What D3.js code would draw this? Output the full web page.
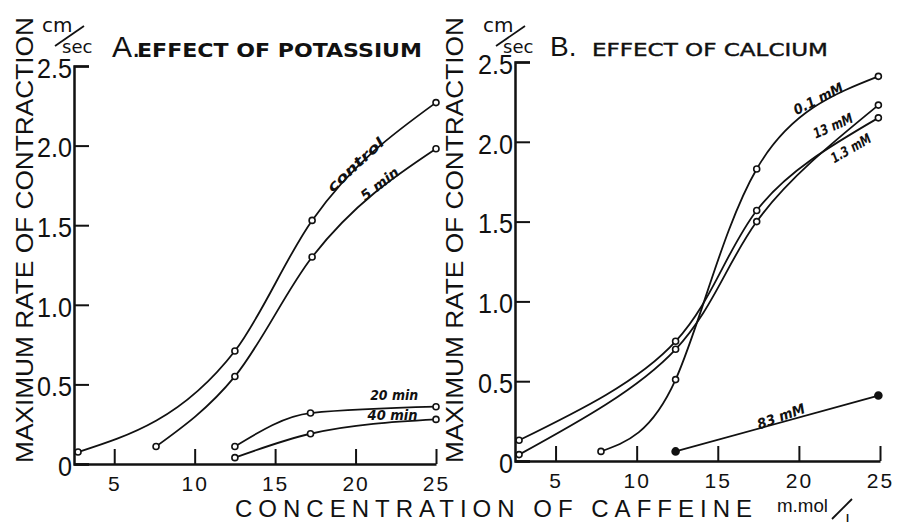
<html>
<head>
    <script src="https://d3js.org/d3.v7.min.js"></script>
    <style>
        body { margin: 0; background: #fff; }
    </style>
</head>
<body>
    <svg id="s" width="900" height="524"></svg>
    <script>
        const X_TICKS = [5, 10, 15, 20, 25]
        const Y_TICKS = [0, 0.5, 1, 1.5, 2, 2.5]

        // A. effect of potassium : [caffeine m.mol/l, max rate cm/sec]
        const kControl = [[2.75, 0.075], [12.5, 0.71], [17.3, 1.53], [25, 2.27]]
        const k5min = [[7.6, 0.11], [12.5, 0.55], [17.3, 1.30], [25, 1.98]]
        const k20min = [[12.5, 0.11], [17.2, 0.32], [25, 0.36]]
        const k40min = [[12.5, 0.04], [17.2, 0.19], [25, 0.28]]

        // B. effect of calcium
        const ca01 = [[7.8, 0.06], [12.4, 0.51], [17.4, 1.83], [24.9, 2.41]]
        const ca13 = [[2.75, 0.04], [12.4, 0.70], [17.4, 1.50], [24.9, 2.23]]
        const ca1p3 = [[2.75, 0.13], [12.4, 0.75], [17.4, 1.57], [24.9, 2.15]]
        const ca83 = [[12.4, 0.06], [24.9, 0.41]]

        const INK = "#111"
        const NUM_FONT = "'Liberation Sans', Arial, sans-serif"
        const LBL_FONT = "'DejaVu Sans', sans-serif"

        const svg = d3.select("svg")

        // label: data position, angle, length of the text
        const panels = [
            {
                xr: [74, 436], yr: [464, 66], titleOff: 50, curve: d3.curveMonotoneX,
                series: [
                    { data: kControl, label: "control", at: [20, 1.88], rot: -43, len: 72 },
                    { data: k5min, label: "5 min", at: [21.5, 1.76], rot: -38, len: 44 },
                    { data: k20min, label: "20 min", at: [22.4, 0.43], rot: 0, len: 48 },
                    { data: k40min, label: "40 min", at: [22.3, 0.31], rot: 0, len: 50 }
                ]
            },
            {
                xr: [515, 880], yr: [461, 62], titleOff: 61, curve: d3.curveNatural,
                series: [
                    { data: ca01, label: "0.1 mM", at: [21.2, 2.27], rot: -27, len: 54 },
                    { data: ca13, label: "13 mM", at: [22.1, 2.10], rot: -24, len: 42 },
                    { data: ca1p3, label: "1.3 mM", at: [23.2, 1.96], rot: -30, len: 44 },
                    { data: ca83, label: "83 mM", at: [18.9, 0.28], rot: -20, len: 50, filled: true }
                ]
            }
        ]

        panels.forEach(p => {
            const x = d3.scaleLinear().domain([2.5, 25]).range(p.xr)
            const y = d3.scaleLinear().domain([0, 2.5]).range(p.yr)
            const g = svg.append("g")

            // y axis, ticks pointing inwards
            const yAxis = g.append("g")
                .attr("transform", `translate(${p.xr[0]}, 0)`)
                .call(d3.axisLeft(y).tickValues(Y_TICKS).tickSize(-15).tickPadding(2)
                    .tickFormat(d => d === 0 ? "0" : d.toFixed(1)))
            yAxis.select(".domain").attr("stroke", INK).attr("stroke-width", 2.5)
            yAxis.selectAll(".tick line").attr("stroke", INK).attr("stroke-width", 2)
            yAxis.selectAll("text").attr("font-family", NUM_FONT).attr("font-size", 28)
                .attr("fill", INK)
                .attr("dy", "0.4em")
                .attr("textLength", d => d === 0 ? 14 : 35)
                .attr("lengthAdjust", "spacingAndGlyphs")

            // x axis
            const xAxis = g.append("g")
                .attr("transform", `translate(0, ${p.yr[0]})`)
                .call(d3.axisBottom(x).tickValues(X_TICKS).tickSize(-15).tickSizeOuter(0).tickPadding(12))
            xAxis.select(".domain").attr("stroke", INK).attr("stroke-width", 2.5)
            xAxis.selectAll(".tick line").attr("stroke", INK).attr("stroke-width", 2)
            xAxis.selectAll("text").attr("font-family", NUM_FONT).attr("font-size", 21)
                .attr("fill", INK).attr("letter-spacing", 2)

            const line = d3.line().x(d => x(d[0])).y(d => y(d[1])).curve(p.curve)

            p.series.forEach(s => {
                g.append("path")
                    .datum(s.data)
                    .attr("d", line)
                    .attr("fill", "none")
                    .attr("stroke", INK)
                    .attr("stroke-width", 1.8)

                g.selectAll(null)
                    .data(s.data)
                    .enter().append("circle")
                    .attr("cx", d => x(d[0]))
                    .attr("cy", d => y(d[1]))
                    .attr("r", s.filled ? 3.5 : 3)
                    .attr("fill", s.filled ? INK : "#fff")
                    .attr("stroke", INK)
                    .attr("stroke-width", 1.6)

                g.append("text")
                    .attr("transform", `translate(${x(s.at[0])}, ${y(s.at[1])}) rotate(${s.rot})`)
                    .attr("text-anchor", "middle")
                    .attr("dy", "0.35em")
                    .attr("font-family", LBL_FONT)
                    .attr("font-size", 14)
                    .attr("font-weight", "bold")
                    .attr("font-style", "italic")
                    .attr("textLength", s.len)
                    .attr("lengthAdjust", "spacingAndGlyphs")
                    .attr("fill", INK)
                    .text(s.label)
            })

            // y axis title
            g.append("text")
                .attr("transform", `translate(${p.xr[0] - p.titleOff}, 240) rotate(-90)`)
                .attr("text-anchor", "middle")
                .attr("dy", "0.36em")
                .attr("font-family", NUM_FONT)
                .attr("font-size", 24)
                .attr("textLength", 446)
                .attr("lengthAdjust", "spacingAndGlyphs")
                .attr("fill", INK)
                .text("MAXIMUM RATE OF CONTRACTION")

            // cm/sec unit
            const ux = p.xr[0]
            g.append("text").attr("x", ux - 32).attr("y", 32)
                .attr("font-family", LBL_FONT).attr("font-size", 20).attr("fill", INK).text("cm")
            g.append("line").attr("x1", ux - 19).attr("y1", 46).attr("x2", ux + 10).attr("y2", 26)
                .attr("stroke", INK).attr("stroke-width", 1.8)
            g.append("text").attr("x", ux - 12).attr("y", 53)
                .attr("font-family", LBL_FONT).attr("font-size", 18).attr("fill", INK).text("sec")
        })

        // titles
        svg.append("text").attr("x", 112).attr("y", 57)
            .attr("font-family", NUM_FONT).attr("font-size", 30).attr("fill", INK).text("A.")
        svg.append("text").attr("x", 137).attr("y", 57)
            .attr("font-family", LBL_FONT).attr("font-size", 20).attr("font-weight", "bold")
            .attr("textLength", 285).attr("lengthAdjust", "spacingAndGlyphs")
            .attr("fill", INK).text("EFFECT OF POTASSIUM")
        svg.append("text").attr("x", 550).attr("y", 56)
            .attr("font-family", NUM_FONT).attr("font-size", 28).attr("fill", INK).text("B.")
        svg.append("text").attr("x", 592).attr("y", 56)
            .attr("font-family", LBL_FONT).attr("font-size", 18)
            .attr("textLength", 236).attr("lengthAdjust", "spacingAndGlyphs")
            .attr("fill", INK).attr("stroke", INK).attr("stroke-width", 0.4)
            .text("EFFECT OF CALCIUM")

        // x axis title
        svg.append("text").attr("x", 235).attr("y", 517)
            .attr("font-family", NUM_FONT).attr("font-size", 24)
            .attr("textLength", 517).attr("lengthAdjust", "spacing")
            .attr("fill", INK).text("CONCENTRATION OF CAFFEINE")
        svg.append("text").attr("x", 777).attr("y", 512)
            .attr("font-family", NUM_FONT).attr("font-size", 18)
            .attr("textLength", 51).attr("lengthAdjust", "spacingAndGlyphs")
            .attr("fill", INK).text("m.mol")
        svg.append("line").attr("x1", 832).attr("y1", 519).attr("x2", 852).attr("y2", 499)
            .attr("stroke", INK).attr("stroke-width", 1.8)
        svg.append("text").attr("x", 846).attr("y", 522)
            .attr("font-family", NUM_FONT).attr("font-size", 11).attr("font-weight", "bold")
            .attr("fill", INK).text("l")
    </script>
</body>
</html>
